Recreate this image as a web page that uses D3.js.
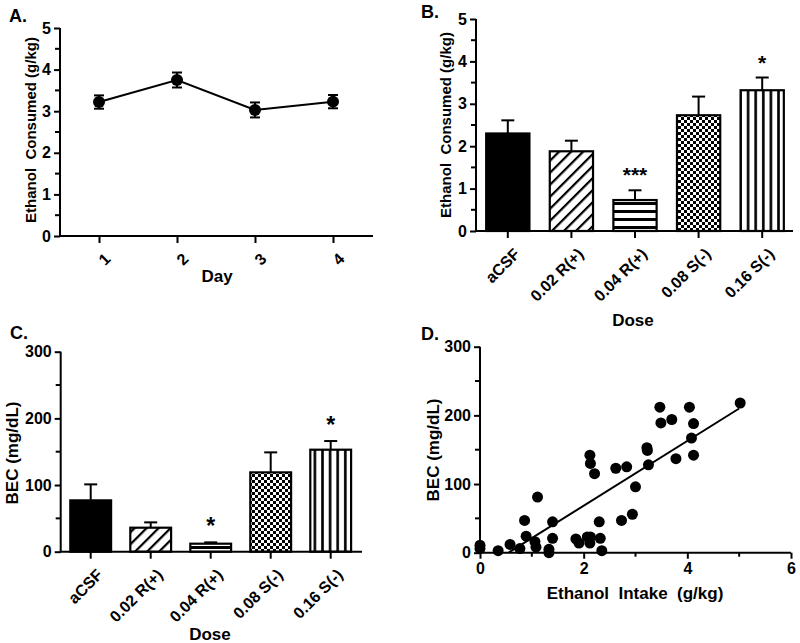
<!DOCTYPE html>
<html><head><meta charset="utf-8">
<script src="https://cdn.jsdelivr.net/npm/d3@7"></script>
<style>
body{margin:0;background:#fff;}
svg{display:block;font-family:"Liberation Sans",Arial,sans-serif;font-weight:bold;}
svg text{font-family:"Liberation Sans",Arial,sans-serif;}
</style></head>
<body><svg id="c" width="800" height="643"></svg>
<script>
// ---------- DATA ----------
const days = [1, 2, 3, 4];
const dayMeans = [3.22, 3.75, 3.03, 3.23];
const dayErr = [0.16, 0.18, 0.18, 0.16];
const yTicksA = [0, 1, 2, 3, 4, 5];

const doses = ["aCSF", "0.02 R(+)", "0.04 R(+)", "0.08 S(-)", "0.16 S(-)"];
const doseFills = ["solid", "diag", "horiz", "checker", "vert"];
const consumedMeans = [2.30, 1.88, 0.73, 2.73, 3.32];
const consumedErr = [0.31, 0.25, 0.23, 0.44, 0.30];
const consumedStars = ["", "", "***", "", "*"];

const becMeans = [77, 36, 12, 119, 153];
const becErr = [24, 8, 2, 30, 13];
const becStars = ["", "", "*", "", "*"];
const yTicksBEC = [0, 100, 200, 300];

const intakeX = [0, 0, 0.35, 0.58, 0.77, 0.86, 0.89, 1.06, 1.08, 1.11, 1.33, 1.33, 1.40, 1.40,
  1.85, 1.91, 2.07, 2.13, 2.12, 2.12, 2.13, 2.21, 2.30, 2.32, 2.35, 2.62, 2.73, 2.83, 2.94, 3.00,
  3.22, 3.23, 3.25, 3.47, 3.49, 3.70, 3.78, 4.04, 4.08, 4.12, 4.12, 5.02];
const becY = [11, 6, 3, 12, 6, 47, 24, 16, 8, 81, 5, 0, 45, 21,
  20, 14, 23, 23, 14, 142, 130, 115, 45, 21, 3, 123, 47, 125, 56, 96,
  153, 149, 128, 212, 189, 194, 137, 212, 167, 188, 142, 218];
const fitSlope = 47.2, fitIntercept = -26, fitRange = [0.55, 5.0];
const xTicksD = [0, 2, 4, 6];

// ---------- SETUP ----------
const FONT = "Liberation Sans, Arial, sans-serif";
const svg = d3.select("#c");
const defs = svg.append("defs");
function pat(id, w, h, draw, rot) {
  const p = defs.append("pattern").attr("id", id).attr("patternUnits", "userSpaceOnUse")
    .attr("width", w).attr("height", h);
  if (rot) p.attr("patternTransform", "rotate(" + rot + ")");
  p.append("rect").attr("width", w).attr("height", h).attr("fill", "#fff");
  draw(p);
}
pat("diag", 8.5, 8, p => p.append("rect").attr("x", 0).attr("y", 0).attr("width", 2.2).attr("height", 8).attr("fill", "#000"), 45);
pat("horiz", 10, 8, p => p.append("rect").attr("x", 0).attr("y", 2).attr("width", 10).attr("height", 3).attr("fill", "#000"));
pat("vert", 7.6, 10, p => p.append("rect").attr("x", 2).attr("y", 0).attr("width", 2.6).attr("height", 10).attr("fill", "#000"));
pat("checker", 6, 6, p => {
  p.append("rect").attr("x", 0).attr("y", 0).attr("width", 3).attr("height", 3).attr("fill", "#000");
  p.append("rect").attr("x", 3).attr("y", 3).attr("width", 3).attr("height", 3).attr("fill", "#000");
});
const fillOf = k => k === "solid" ? "#000" : "url(#" + k + ")";

function styleAxis(ga, fs) {
  ga.attr("font-family", FONT).attr("font-size", fs).attr("font-weight", "bold");
  ga.selectAll(".tick line").attr("stroke-width", 2);
  ga.selectAll(".tick text").attr("font-size", fs).attr("font-weight", "bold").attr("fill", "#000")
    .attr("font-family", FONT);
}

function yAxis(g, y, x0, ticks, minorStep, fs) {
  const ax = d3.axisLeft(y).tickValues(ticks).tickSize(6).tickPadding(3).tickFormat(d3.format("d"));
  const ga = g.append("g").attr("transform", `translate(${x0},0)`).call(ax);
  ga.select(".domain").attr("stroke-width", 2).attr("d", `M0,${y.range()[0]}V${y.range()[1]}`);
  styleAxis(ga, fs);
  const dom = y.domain();
  const minors = d3.range(dom[0] + minorStep, dom[1], minorStep * 2);
  g.append("g").selectAll("line").data(minors).join("line")
    .attr("x1", x0 - 5).attr("x2", x0).attr("y1", d => y(d)).attr("y2", d => y(d))
    .attr("stroke", "#000").attr("stroke-width", 2);
}

function label(g, txt, x, y, fs, rot) {
  const t = g.append("text").attr("x", x).attr("y", y).attr("font-size", fs)
    .attr("text-anchor", "middle").attr("fill", "#000").attr("xml:space", "preserve").text(txt);
  if (rot) t.attr("transform", `rotate(${rot},${x},${y})`);
  return t;
}

// ---------- PANEL A ----------
{
  const g = svg.append("g");
  const x = d3.scaleLinear().domain([1, 4]).range([99, 333]);
  const y = d3.scaleLinear().domain([0, 5]).range([236, 28]);
  yAxis(g, y, 60, yTicksA, 0.5, 16);
  g.append("line").attr("x1", 59).attr("x2", 373).attr("y1", 236).attr("y2", 236).attr("stroke", "#000").attr("stroke-width", 2);
  const xa = g.append("g").attr("transform", "translate(0,236)")
    .call(d3.axisBottom(x).tickValues(days).tickSize(7).tickFormat(d3.format("d")));
  xa.select(".domain").remove();
  styleAxis(xa, 16);
  xa.selectAll(".tick text").attr("text-anchor", "end").attr("dy", 0).attr("transform", "translate(5,17) rotate(-45)");
  const pts = days.map((d, i) => ({ d, m: dayMeans[i], e: dayErr[i] }));
  g.append("path").datum(pts).attr("fill", "none").attr("stroke", "#000").attr("stroke-width", 2)
    .attr("d", d3.line().x(p => x(p.d)).y(p => y(p.m)));
  const eb = g.append("g").selectAll("g").data(pts).join("g");
  eb.append("line").attr("x1", p => x(p.d)).attr("x2", p => x(p.d)).attr("y1", p => y(p.m - p.e)).attr("y2", p => y(p.m + p.e)).attr("stroke", "#000").attr("stroke-width", 2);
  eb.append("line").attr("x1", p => x(p.d) - 5).attr("x2", p => x(p.d) + 5).attr("y1", p => y(p.m + p.e)).attr("y2", p => y(p.m + p.e)).attr("stroke", "#000").attr("stroke-width", 2);
  eb.append("line").attr("x1", p => x(p.d) - 5).attr("x2", p => x(p.d) + 5).attr("y1", p => y(p.m - p.e)).attr("y2", p => y(p.m - p.e)).attr("stroke", "#000").attr("stroke-width", 2);
  eb.append("circle").attr("cx", p => x(p.d)).attr("cy", p => y(p.m)).attr("r", 6).attr("fill", "#000");
  label(g, "Ethanol  Consumed (g/kg)", 36, 130, 15, -90);
  label(g, "Day", 217, 282, 17);
  g.append("text").attr("x", 9).attr("y", 22).attr("font-size", 18).text("A.");
}

// ---------- BAR PANELS ----------
function barPanel(opt) {
  const g = svg.append("g");
  const x = d3.scaleBand().domain(doses).range(opt.xr).paddingInner(0.32).paddingOuter(0.16);
  const y = d3.scaleLinear().domain(opt.yd).range(opt.yr);
  const rows = doses.map((d, i) => ({ d, m: opt.means[i], e: opt.err[i], f: doseFills[i], s: opt.stars[i] }));
  const eb = g.append("g").selectAll("g").data(rows).join("g");
  const cx = r => x(r.d) + x.bandwidth() / 2;
  eb.append("line").attr("x1", cx).attr("x2", cx).attr("y1", r => y(r.m)).attr("y2", r => y(r.m + r.e)).attr("stroke", "#000").attr("stroke-width", 2);
  eb.append("line").attr("x1", r => cx(r) - 6.5).attr("x2", r => cx(r) + 6.5).attr("y1", r => y(r.m + r.e)).attr("y2", r => y(r.m + r.e)).attr("stroke", "#000").attr("stroke-width", 2);
  g.append("g").selectAll("rect").data(rows).join("rect")
    .attr("x", r => x(r.d)).attr("width", x.bandwidth())
    .attr("y", r => y(r.m)).attr("height", r => y(0) - y(r.m))
    .attr("fill", r => fillOf(r.f)).attr("stroke", "#000").attr("stroke-width", 2.2);
  g.append("g").selectAll("text").data(rows.filter(r => r.s)).join("text")
    .attr("x", cx).attr("y", r => y(r.m + r.e) - opt.starOff).attr("text-anchor", "middle")
    .attr("fill", "#000").attr("font-size", opt.starFs).attr("font-weight", "bold").text(r => r.s);
  yAxis(g, y, opt.xr[0], opt.ticks, opt.minor, opt.tickFs);
  g.append("line").attr("x1", opt.xr[0] - 1).attr("x2", opt.axisEnd).attr("y1", y(0)).attr("y2", y(0)).attr("stroke", "#000").attr("stroke-width", 2);
  const xa = g.append("g").attr("transform", `translate(0,${y(0)})`)
    .call(d3.axisBottom(x).tickSize(7));
  xa.select(".domain").remove();
  styleAxis(xa, opt.tickFs);
  xa.selectAll(".tick text").attr("text-anchor", "end").attr("dy", 0).attr("transform", "translate(6,17) rotate(-45)");
  label(g, opt.ylab, opt.ylabX, opt.ylabY, opt.ylabFs, -90);
  label(g, "Dose", opt.doseX, opt.doseY, 17);
  g.append("text").attr("x", opt.titleX).attr("y", opt.titleY).attr("font-size", 18).text(opt.title);
}

barPanel({
  xr: [476, 794], yd: [0, 5], yr: [231, 19], means: consumedMeans, err: consumedErr, stars: consumedStars,
  ticks: yTicksA, minor: 0.5, tickFs: 16, axisEnd: 793, starOff: 8, starFs: 21,
  ylab: "Ethanol  Consumed (g/kg)", ylabX: 451, ylabY: 125, ylabFs: 15,
  doseX: 633, doseY: 326, title: "B.", titleX: 421, titleY: 18
});
barPanel({
  xr: [60.7, 360.7], yd: [0, 300], yr: [551.7, 351.7], means: becMeans, err: becErr, stars: becStars,
  ticks: yTicksBEC, minor: 50, tickFs: 16, axisEnd: 362, starOff: 8, starFs: 23,
  ylab: "BEC (mg/dL)", ylabX: 18, ylabY: 453, ylabFs: 17,
  doseX: 210, doseY: 640, title: "C.", titleX: 10, titleY: 339
});

// ---------- PANEL D ----------
{
  const g = svg.append("g");
  const x = d3.scaleLinear().domain([0, 6]).range([480, 791]);
  const y = d3.scaleLinear().domain([0, 300]).range([552.7, 346.7]);
  yAxis(g, y, 480, yTicksBEC, 50, 16);
  const xa = g.append("g").attr("transform", `translate(0,${y(0)})`)
    .call(d3.axisBottom(x).tickValues(xTicksD).tickSize(6).tickPadding(4).tickFormat(d3.format("d")));
  xa.select(".domain").attr("stroke-width", 2).attr("d", `M479,0H791`);
  styleAxis(xa, 16);
  g.append("g").selectAll("line").data([1, 3, 5]).join("line")
    .attr("x1", d => x(d)).attr("x2", d => x(d)).attr("y1", y(0)).attr("y2", y(0) + 4)
    .attr("stroke", "#000").attr("stroke-width", 2);
  g.append("line").attr("x1", x(fitRange[0])).attr("x2", x(fitRange[1]))
    .attr("y1", y(fitSlope * fitRange[0] + fitIntercept)).attr("y2", y(fitSlope * fitRange[1] + fitIntercept))
    .attr("stroke", "#000").attr("stroke-width", 2);
  g.append("g").selectAll("circle").data(intakeX.map((v, i) => [v, becY[i]])).join("circle")
    .attr("cx", d => x(d[0])).attr("cy", d => y(d[1])).attr("r", 5.5).attr("fill", "#000");
  label(g, "BEC (mg/dL)", 439, 450, 17, -90);
  label(g, "Ethanol  Intake  (g/kg)", 635, 599, 17);
  g.append("text").attr("x", 421).attr("y", 340).attr("font-size", 18).text("D.");
}
</script></body></html>
